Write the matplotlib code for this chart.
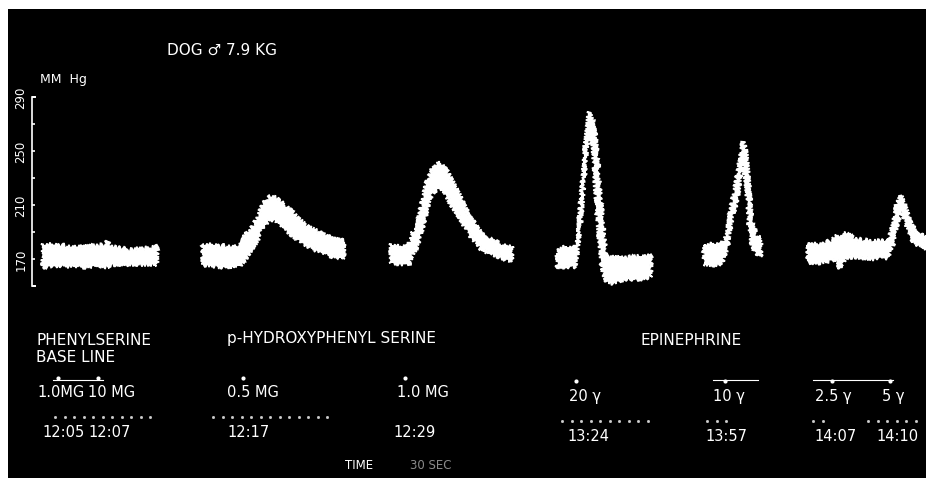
import numpy as np
import matplotlib
matplotlib.use('Agg')
from matplotlib import pyplot as plt
from matplotlib.patches import Rectangle

# chart position along the kymograph paper (1 unit ~ 3 s), pressure in mm Hg
seg1_pos = [43, 60, 80, 100, 105, 108, 111, 130, 157]
seg1_hi = [181, 180, 179, 180, 181, 183, 179, 177, 179]
seg1_lo = [164, 165, 164, 165, 164, 164, 166, 166, 166]

seg2_pos = [203, 220, 240, 245, 250, 257, 263, 270, 277, 287, 297, 307, 317, 327, 336, 344]
seg2_hi = [181.1, 179.6, 179.6, 187.8, 190.7, 199.6, 210.7, 216.7, 215.2, 208.5, 201.1,
           194.4, 190.7, 187.0, 184.8, 183.3]
seg2_lo = [165.6, 164.1, 164.8, 170.0, 175.2, 182.6, 193.7, 198.9, 198.1, 190.7, 184.8,
           179.6, 175.9, 173.0, 171.5, 170.0]

seg3_pos = [391, 400, 409, 412, 416, 420, 427, 432, 440, 450, 460, 470, 483, 500, 512]
seg3_hi = [181.1, 178.9, 179.6, 190.0, 190.7, 204.8, 227.8, 236.7, 241.9, 231.5, 216.7,
           201.1, 187.8, 181.1, 179.6]
seg3_lo = [166.3, 166.3, 166.3, 172.2, 177.4, 184.8, 207.0, 218.1, 224.1, 212.2, 199.6,
           187.0, 175.9, 171.5, 167.8]

seg4_pos = [557, 565, 575, 578, 582, 586, 589, 593, 596, 600, 603, 607, 614, 625, 640, 651]
seg4_hi = [177.4, 178.9, 177.4, 189.3, 223.3, 260.4, 278.9, 272.2, 258.9, 221.9, 193.7,
           171.5, 171.5, 170.7, 172.2, 172.2]
seg4_lo = [164.1, 164.1, 164.1, 178.9, 208.5, 244.1, 267.8, 251.5, 214.4, 177.4, 158.9,
           153.0, 151.5, 155.2, 155.2, 156.7]

seg5_pos = [704, 712, 722, 727, 731, 735, 739, 743, 746, 749, 752, 756, 761]
seg5_hi = [180.4, 181.1, 180.4, 190.7, 207.4, 221.9, 240.4, 256.7, 251.5, 225.6, 198.1,
           187.8, 186.3]
seg5_lo = [166.3, 165.6, 166.3, 177.4, 195.9, 207.4, 222.2, 245.6, 225.6, 195.9, 181.1,
           173.7, 171.5]

seg6_pos = [808, 820, 830, 836, 840, 846, 855, 870, 888, 893, 897, 901, 905, 910, 918, 926]
seg6_hi = [181.9, 180.4, 183.3, 187.8, 184.8, 189.3, 184.8, 183.3, 183.3, 195.9, 210.7,
           217.4, 210.0, 198.1, 187.8, 187.0]
seg6_lo = [167.8, 167.0, 168.5, 170.0, 162.6, 171.5, 171.5, 170.0, 170.7, 181.1, 195.9,
           205.6, 198.1, 186.3, 179.6, 177.4]

segments = [(seg1_pos, seg1_hi, seg1_lo), (seg2_pos, seg2_hi, seg2_lo),
            (seg3_pos, seg3_hi, seg3_lo), (seg4_pos, seg4_hi, seg4_lo),
            (seg5_pos, seg5_hi, seg5_lo), (seg6_pos, seg6_hi, seg6_lo)]

scale_ticks = [290, 270, 250, 230, 210, 190, 170, 150]
scale_labels = ['290', '250', '210', '170']

drug_names = ['PHENYLSERINE\nBASE LINE', 'p-HYDROXYPHENYL SERINE', 'EPINEPHRINE']
dose_labels = ['1.0MG', '10 MG', '0.5 MG', '1.0 MG', '20 \u03b3', '10 \u03b3', '2.5 \u03b3', '5 \u03b3']
time_labels = ['12:05', '12:07', '12:17', '12:29', '13:24', '13:57', '14:07', '14:10']

# injection signal marks and 30 s time-marker runs, chart position
inject_pos = [58, 98, 243, 405, 576, 725, 832, 890]
signal_runs = [(53, 103), (713, 758), (813, 893)]
time_runs = [(55, 157), (213, 330), (562, 648), (707, 727), (813, 827), (868, 922)]

W, H = 926, 481
BASE_PX, PX_PER_MM = 260, 27 / 20   # 170 mm Hg sits at pixel row 260


def mm_at(px):
    return 170 + (BASE_PX - px) / PX_PER_MM


fig = plt.figure(figsize=(W / 100, H / 100), dpi=100, facecolor='white')

# pixel-space layer for the photographed card and its lettering
ann = fig.add_axes([0, 0, 1, 1], zorder=0)
ann.set_xlim(0, W)
ann.set_ylim(H, 0)
ann.axis('off')
ann.add_patch(Rectangle((8, 10), W - 8, 469, facecolor='black', edgecolor='none'))

# pressure layer
ax = fig.add_axes([0, 0, 1, 1], zorder=1)
ax.set_xlim(0, W)
ax.set_ylim(mm_at(H), mm_at(0))
ax.patch.set_alpha(0)
ax.axis('off')

for pos, hi, lo in segments:
    xs = list(pos) + list(pos)[::-1]
    ys = list(hi) + list(lo)[::-1]
    for poly in ax.fill(xs, ys, facecolor='white', edgecolor='white', lw=1.2):
        poly.set_sketch_params(scale=2.2, length=2.0, randomness=3)

# mm Hg scale
ax.plot([32, 32], [scale_ticks[-1], scale_ticks[0]], color='white', lw=1.2)
ax.hlines(scale_ticks, 32, 34.5, color='white', lw=1.2)
ax.hlines([scale_ticks[0], scale_ticks[-1]], 32, 36, color='white', lw=1.4)
for lab in scale_labels:
    ax.text(21, float(lab), lab, color='white', rotation=90, fontsize=8.5,
            ha='center', va='center')

txt = dict(color='white', family='DejaVu Sans')
ann.text(167, 50, 'DOG \u2642 7.9 KG', fontsize=11, va='center', **txt)
ann.text(40, 80, 'MM  Hg', fontsize=9, va='center', **txt)

ann.text(36, 349, drug_names[0], fontsize=11, va='center', linespacing=1.2, **txt)
ann.text(227, 339, drug_names[1], fontsize=11, va='center', **txt)
ann.text(640, 341, drug_names[2], fontsize=11, va='center', **txt)

dose_x = [37, 88, 227, 397, 569, 713, 815, 882]
dose_y = [393, 393, 393, 393, 397, 397, 397, 397]
for x, y, lab in zip(dose_x, dose_y, dose_labels):
    ann.text(x, y, lab, fontsize=10.5, va='center', **txt)

time_x = [42, 88, 227, 393, 567, 705, 814, 876]
time_y = [433, 433, 433, 433, 437, 437, 437, 437]
for x, y, lab in zip(time_x, time_y, time_labels):
    ann.text(x, y, lab, fontsize=10.5, va='center', **txt)

ann.text(345, 466, 'TIME', fontsize=8.5, va='center', **txt)
ann.text(410, 466, '30 SEC', fontsize=8.5, va='center', color='#8a8a8a', family='DejaVu Sans')

# signal line (injections) and time marker dots
for a, b in signal_runs:
    ann.plot([a, b], [381, 381], color='white', lw=0.8)
ann.scatter(inject_pos, [379 if p < 500 else 382 for p in inject_pos],
            s=9, color='white', marker='o', lw=0)
for a, b in time_runs:
    y = 418 if a < 500 else 422
    ticks = np.arange(a, b + 1, 9.5)
    ann.plot(ticks, [y] * len(ticks), ls='none', marker='s', ms=1.0, color='#cfcfcf')

fig.savefig('out.png', dpi=100, facecolor='white')
